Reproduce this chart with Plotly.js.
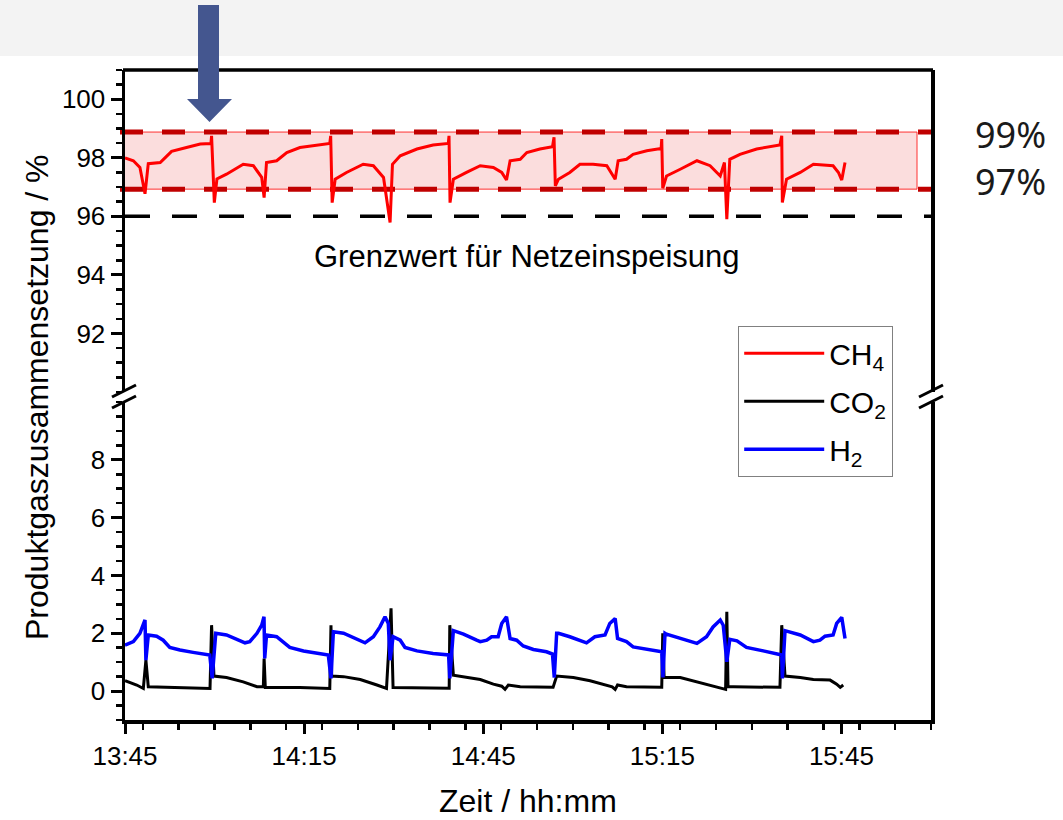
<!DOCTYPE html>
<html>
<head>
<meta charset="utf-8">
<script src="https://cdn.plot.ly/plotly-3.0.1.min.js"></script>
<style>
  html, body { margin: 0; padding: 0; background: #ffffff; }
  #chart { width: 1063px; height: 820px; }
</style>
</head>
<body>
<div id="chart"></div>
<script>
// Time in minutes after 13:45
const ch4Minutes = [0.0, 1.4, 2.5, 3.35, 3.9, 5.9, 6.7, 7.8, 10.3, 12.6, 14.4, 14.5, 14.96, 15.4, 17.0, 19.8, 21.5, 22.9, 23.3, 23.7, 25.4, 27.1, 29.3, 32.1, 34.3, 34.45, 34.7, 35.2, 37.1, 39.9, 41.6, 43.3, 44.4, 44.8, 46.1, 48.9, 51.6, 54.15, 54.27, 54.44, 55.0, 57.2, 59.5, 61.7, 63.1, 63.9, 64.5, 66.2, 67.3, 69.5, 71.6, 71.86, 72.08, 72.6, 74.5, 76.2, 78.4, 80.7, 82.1, 82.6, 84.0, 85.1, 87.4, 89.8, 89.9, 90.07, 90.7, 93.0, 95.8, 98.0, 99.7, 100.4, 100.8, 101.3, 103.0, 105.8, 109.7, 110.0, 110.1, 110.8, 113.1, 115.3, 118.6, 119.5, 120.05, 120.6];
const ch4Values = [98.00, 97.90, 97.67, 96.77, 97.80, 97.84, 98.00, 98.22, 98.35, 98.47, 98.49, 98.75, 96.47, 97.28, 97.44, 97.78, 97.73, 97.33, 96.64, 97.84, 97.90, 98.18, 98.35, 98.44, 98.49, 98.75, 96.47, 97.27, 97.50, 97.78, 97.73, 97.33, 95.79, 97.78, 98.07, 98.30, 98.44, 98.49, 98.75, 96.47, 97.27, 97.50, 97.73, 97.67, 97.50, 97.24, 97.90, 97.95, 98.18, 98.30, 98.38, 98.70, 97.04, 97.27, 97.50, 97.78, 97.78, 97.73, 97.27, 97.90, 97.95, 98.12, 98.24, 98.32, 98.64, 96.96, 97.38, 97.61, 97.90, 97.73, 97.38, 97.84, 95.90, 97.95, 98.12, 98.30, 98.44, 98.75, 96.47, 97.27, 97.50, 97.78, 97.73, 97.50, 97.24, 97.84];

const co2Minutes = [0.0, 1.96, 3.07, 3.5, 3.9, 14.24, 14.5, 14.9, 17.0, 19.8, 22.1, 23.17, 23.3, 23.5, 29.3, 34.3, 34.5, 34.62, 36.6, 39.4, 42.2, 43.8, 44.56, 44.9, 54.3, 54.4, 55.0, 57.8, 59.5, 61.7, 63.1, 63.65, 64.2, 66.2, 71.7, 72.3, 75.1, 77.9, 80.7, 81.6, 82.1, 82.5, 84.0, 89.9, 90.07, 90.3, 93.0, 95.8, 98.5, 100.6, 100.8, 101.0, 101.9, 109.7, 110.0, 110.55, 113.1, 115.3, 118.1, 119.2, 119.8, 120.3];
const co2Values = [0.36, 0.21, 0.09, 1.07, 0.15, 0.09, 2.28, 0.52, 0.47, 0.32, 0.15, 0.15, 1.13, 0.12, 0.12, 0.09, 2.28, 0.52, 0.50, 0.40, 0.21, 0.09, 2.86, 0.12, 0.10, 2.28, 0.55, 0.47, 0.40, 0.24, 0.17, 0.06, 0.21, 0.15, 0.13, 0.52, 0.47, 0.36, 0.21, 0.15, 0.06, 0.21, 0.15, 0.13, 2.00, 0.47, 0.47, 0.32, 0.15, 0.06, 2.74, 0.15, 0.15, 0.13, 2.28, 0.52, 0.47, 0.40, 0.38, 0.24, 0.13, 0.21];

const h2Minutes = [0.0, 1.4, 2.5, 3.35, 3.5, 3.9, 5.3, 6.4, 7.5, 9.2, 11.4, 14.2, 14.6, 15.2, 17.0, 18.7, 20.1, 20.9, 22.1, 22.9, 23.28, 23.4, 23.7, 25.4, 26.5, 27.6, 29.9, 32.1, 34.05, 34.5, 34.9, 36.6, 38.8, 40.2, 41.6, 42.7, 43.55, 44.1, 44.4, 44.9, 46.1, 46.9, 48.9, 51.6, 54.2, 54.4, 55.0, 56.7, 58.9, 59.5, 60.6, 61.4, 62.5, 63.1, 63.9, 64.5, 65.6, 66.7, 68.4, 70.6, 71.6, 71.9, 72.3, 72.6, 74.5, 76.2, 77.3, 78.7, 80.4, 81.2, 82.1, 82.5, 84.0, 85.1, 87.4, 89.9, 90.1, 90.45, 90.7, 93.0, 95.8, 97.4, 98.5, 99.7, 100.2, 100.8, 101.3, 102.5, 104.1, 106.9, 110.0, 110.1, 110.55, 113.1, 115.3, 116.4, 117.25, 118.6, 119.2, 120.05, 120.6];
const h2Values = [1.59, 1.71, 2.00, 2.46, 1.07, 1.94, 1.90, 1.76, 1.51, 1.42, 1.34, 1.25, 0.44, 2.00, 1.94, 1.79, 1.67, 1.71, 2.00, 2.28, 2.57, 1.13, 1.94, 1.88, 1.71, 1.51, 1.39, 1.30, 1.25, 0.44, 2.05, 2.00, 1.79, 1.67, 1.88, 2.22, 2.57, 2.34, 1.07, 1.88, 1.76, 1.51, 1.39, 1.30, 1.25, 0.44, 2.09, 1.97, 1.76, 1.71, 1.76, 1.88, 1.88, 2.34, 2.57, 1.82, 1.76, 1.56, 1.44, 1.36, 1.28, 0.47, 2.00, 2.00, 1.88, 1.74, 1.67, 1.88, 1.94, 2.34, 2.51, 1.82, 1.71, 1.53, 1.44, 1.36, 0.47, 2.00, 1.97, 1.82, 1.65, 1.88, 2.22, 2.46, 2.28, 1.01, 1.79, 1.74, 1.51, 1.39, 1.25, 0.44, 2.09, 1.94, 1.71, 1.76, 1.90, 1.94, 2.34, 2.55, 1.82];

const seriesNames = ['CH<sub>4</sub>', 'CO<sub>2</sub>', 'H<sub>2</sub>'];
const seriesColors = ['#ff0000', '#000000', '#0000ff'];

const upperTicks = [92, 94, 96, 98, 100];
const lowerTicks = [0, 2, 4, 6, 8];
const limitValue = 96;
// band lines as drawn in the picture (labelled 99 % and 97 %)
const bandLow = 96.93;
const bandHigh = 98.88;
const bandLabels = '99%<br>97%';
const limitLabel = 'Grenzwert für Netzeinspeisung';
const xTitle = 'Zeit / hh:mm';
const yTitle = 'Produktgaszusammensetzung / %';

const startMs = Date.UTC(2024, 0, 1, 13, 45, 0);
function toDate(m) {
  const d = new Date(startMs + Math.round(m * 60000));
  return d.toISOString().replace('T', ' ').replace('Z', '');
}
const xRange = [toDate(0), toDate(135)];

const font = 'Liberation Sans, Arial, sans-serif';
const BLACK = '#000000';

const traces = [
  {x: ch4Minutes.map(toDate), y: ch4Values, name: seriesNames[0], xaxis: 'x', yaxis: 'y2',
   mode: 'lines', line: {color: seriesColors[0], width: 3}, legendgroup: 'a'},
  {x: co2Minutes.map(toDate), y: co2Values, name: seriesNames[1], xaxis: 'x', yaxis: 'y',
   mode: 'lines', line: {color: seriesColors[1], width: 3}, legendgroup: 'b'},
  {x: h2Minutes.map(toDate), y: h2Values, name: seriesNames[2], xaxis: 'x', yaxis: 'y',
   mode: 'lines', line: {color: seriesColors[2], width: 3.5}, legendgroup: 'c'}
];

// pixel helpers for decorations (paper coordinates)
const L = 125, T = 70, W = 806, H = 650;
const px = x => (x - L) / W;
const py = y => (T + H - y) / H;

const arrowPath = 'M ' + px(198) + ',' + py(5) + ' L ' + px(219) + ',' + py(5) + ' L ' + px(219) + ',' + py(99) +
  ' L ' + px(232) + ',' + py(99) + ' L ' + px(209.5) + ',' + py(122) + ' L ' + px(187) + ',' + py(99) +
  ' L ' + px(198) + ',' + py(99) + ' Z';

const shapes = [
  // light grey top strip
  {type: 'rect', xref: 'paper', yref: 'paper', x0: px(0), x1: px(1063), y0: py(56), y1: py(0),
   fillcolor: '#f3f3f3', line: {width: 0}, layer: 'below'},
  // band
  {type: 'rect', xref: 'paper', yref: 'y2', x0: px(123), x1: px(917), y0: bandLow, y1: bandHigh,
   fillcolor: 'rgba(242,150,150,0.32)', line: {color: '#ff3030', width: 1}, layer: 'below'},
  // dashed lines
  {type: 'line', xref: 'paper', yref: 'y2', x0: px(120), x1: 1.003, y0: bandHigh, y1: bandHigh,
   line: {color: '#c00000', width: 5, dash: '23px,19px'}, layer: 'below'},
  {type: 'line', xref: 'paper', yref: 'y2', x0: px(120), x1: 1.003, y0: bandLow, y1: bandLow,
   line: {color: '#c00000', width: 5, dash: '23px,19px'}, layer: 'below'},
  {type: 'line', xref: 'paper', yref: 'y2', x0: px(125), x1: 1, y0: limitValue, y1: limitValue,
   line: {color: BLACK, width: 3.5, dash: '25px,22px'}, layer: 'below'},
  // frame top
  {type: 'line', xref: 'paper', yref: 'paper', x0: px(123), x1: px(933), y0: 1, y1: 1,
   line: {color: BLACK, width: 3.5}},
  // break marks left
  {type: 'line', xref: 'paper', yref: 'paper', x0: px(112), x1: px(136), y0: py(397), y1: py(385),
   line: {color: BLACK, width: 3}},
  {type: 'line', xref: 'paper', yref: 'paper', x0: px(112), x1: px(136), y0: py(408), y1: py(396),
   line: {color: BLACK, width: 3}},
  // break marks right
  {type: 'line', xref: 'paper', yref: 'paper', x0: px(919), x1: px(943), y0: py(397), y1: py(385),
   line: {color: BLACK, width: 3}},
  {type: 'line', xref: 'paper', yref: 'paper', x0: px(919), x1: px(943), y0: py(408), y1: py(396),
   line: {color: BLACK, width: 3}},
  // arrow
  {type: 'path', xref: 'paper', yref: 'paper', path: arrowPath, fillcolor: '#44568f', line: {width: 0}}
];

const annotations = [
  {xref: 'paper', yref: 'y2', x: px(527), y: 94.62, text: limitLabel, showarrow: false,
   font: {family: font, size: 31, color: BLACK}, xanchor: 'center', yanchor: 'middle'},
  {xref: 'paper', yref: 'paper', x: px(1010), y: py(158), text: bandLabels, showarrow: false,
   font: {family: 'Noto Sans, Open Sans, sans-serif', size: 36, color: '#1a1a1a'},
   xanchor: 'center', yanchor: 'middle', align: 'center'},
  {xref: 'paper', yref: 'paper', x: px(37), y: py(397), text: yTitle, textangle: -90, showarrow: false,
   font: {family: font, size: 32, color: BLACK}, xanchor: 'center', yanchor: 'middle'},
  {xref: 'paper', yref: 'paper', x: px(528), y: py(801), text: xTitle, showarrow: false,
   font: {family: font, size: 32, color: BLACK}, xanchor: 'center', yanchor: 'middle'}
];

const yCommon = {
  showgrid: false, zeroline: false, showline: true, linecolor: BLACK, linewidth: 3.5, mirror: true,
  ticks: 'outside', ticklen: 11, tickwidth: 3, tickcolor: BLACK,
  tickfont: {family: font, size: 26, color: BLACK},
  minor: {dtick: 0.5, ticks: 'outside', ticklen: 6, tickwidth: 2.5, tickcolor: BLACK},
  fixedrange: true
};

const layout = {
  width: 1063, height: 820,
  margin: {l: L, r: 1063 - L - W, t: T, b: 820 - T - H},
  paper_bgcolor: '#ffffff', plot_bgcolor: '#ffffff',
  showlegend: true,
  legend: {x: px(738), y: py(326), xanchor: 'left', yanchor: 'top',
    bgcolor: '#ffffff', bordercolor: '#808080', borderwidth: 1.2,
    font: {family: font, size: 30, color: BLACK}, tracegroupgap: 6, itemwidth: 80},
  xaxis: {
    type: 'date', range: xRange, anchor: 'y', domain: [0, 1],
    tick0: toDate(0), dtick: 30 * 60000, tickformat: '%H:%M',
    showgrid: false, zeroline: false, showline: true, linecolor: BLACK, linewidth: 3.5,
    ticks: 'outside', ticklen: 10, tickwidth: 3, tickcolor: BLACK,
    tickfont: {family: font, size: 26, color: BLACK},
    minor: {dtick: 6 * 60000, ticks: 'outside', ticklen: 6, tickwidth: 2.5, tickcolor: BLACK},
    fixedrange: true
  },
  yaxis: Object.assign({}, yCommon, {domain: [0, py(402)], range: [-1, 10], tickvals: lowerTicks, anchor: 'x'}),
  yaxis2: Object.assign({}, yCommon, {domain: [py(392), 1], range: [90, 101], tickvals: upperTicks, anchor: 'x'}),
  shapes: shapes,
  annotations: annotations
};

Plotly.newPlot('chart', traces, layout, {displayModeBar: false, staticPlot: true});
</script>
</body>
</html>
